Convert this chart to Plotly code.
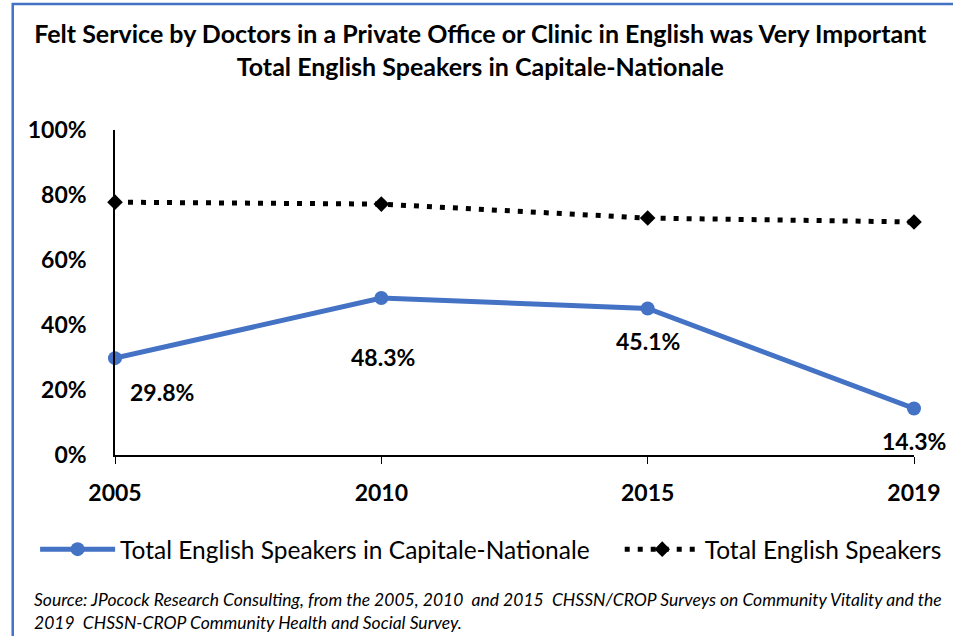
import plotly.graph_objects as go

years = ["2005", "2010", "2015", "2019"]
capitale = [29.8, 48.3, 45.1, 14.3]
total = [77.8, 77.2, 72.9, 71.7]
capitale_labels = ["29.8%", "48.3%", "45.1%", "14.3%"]
ytick_vals = [0, 20, 40, 60, 80, 100]
ytick_text = ["0%", "20%", "40%", "60%", "80%", "100%"]

BLUE = "#4472C4"
FONT = "Lato"
NBSP = "\u00a0"

fig = go.Figure()
fig.add_trace(go.Scatter(
    x=years, y=capitale, mode="lines+markers",
    name="Total English Speakers in Capitale-Nationale" + NBSP * 4,
    line=dict(color=BLUE, width=5),
    marker=dict(symbol="circle", size=14, color=BLUE),
    cliponaxis=False,
))
fig.add_trace(go.Scatter(
    x=years, y=total, mode="lines+markers",
    name="Total English Speakers",
    line=dict(color="black", width=5, dash="5px,8px"),
    marker=dict(symbol="diamond", size=12, color="black"),
    cliponaxis=False,
))

shifts = [(47, -34), (2, -59), (0, -33), (0, -32)]
for i, (y, t, (dx, dy)) in enumerate(zip(capitale, capitale_labels, shifts)):
    fig.add_annotation(x=i, y=y, text=t, showarrow=False, xshift=dx, yshift=dy,
                       font=dict(family=FONT, size=23, color="black", weight="bold"))

fig.add_annotation(
    xref="paper", yref="paper", x=-0.104, y=-0.406, xanchor="left", yanchor="top",
    align="left", showarrow=False,
    text=("<i>Source: JPocock Research Consulting, from the 2005, 2010  and 2015  CHSSN/CROP Surveys on Community Vitality and the<br>"
          "2019  CHSSN-CROP Community Health and Social Survey.</i>"),
    font=dict(family=FONT, size=17.5, color="black"),
)

fig.add_shape(type="rect", xref="paper", yref="paper",
              x0=-0.128, x1=1.2, y0=-1.0, y1=1.388,
              line=dict(color=BLUE, width=2.5), fillcolor="rgba(0,0,0,0)")

fig.update_layout(
    width=953, height=636,
    margin=dict(l=115, r=33, t=130, b=181),
    paper_bgcolor="white", plot_bgcolor="white",
    title=dict(
        text="Felt Service by Doctors in a Private Office or Clinic in English was Very Important<br>Total English Speakers in Capitale-Nationale",
        x=0.504, xref="container", xanchor="center", y=0.932, yref="container", yanchor="top",
        font=dict(family=FONT, size=25, color="black", weight="bold"),
    ),
    xaxis=dict(
        type="category", range=[0, 3], showgrid=False,
        showline=True, linecolor="black", linewidth=1.5,
        ticks="outside", ticklen=7, tickcolor="black",
        ticklabelstandoff=10,
        tickfont=dict(family=FONT, size=23, color="black", weight="bold"),
    ),
    yaxis=dict(
        range=[0, 100], tickvals=ytick_vals, ticktext=ytick_text, showgrid=False,
        showline=True, linecolor="black", linewidth=1.5, zeroline=False,
        ticks="", ticklabelstandoff=22,
        tickfont=dict(family=FONT, size=23, color="black", weight="bold"),
    ),
    legend=dict(
        orientation="h", x=-0.1, y=-0.29, xanchor="left", yanchor="middle",
        font=dict(family=FONT, size=24.5, color="black"),
        itemwidth=75, bgcolor="rgba(0,0,0,0)",
    ),
)

fig.write_html("out.html", config={"displayModeBar": False},
               post_script="document.body.style.margin='0';")
